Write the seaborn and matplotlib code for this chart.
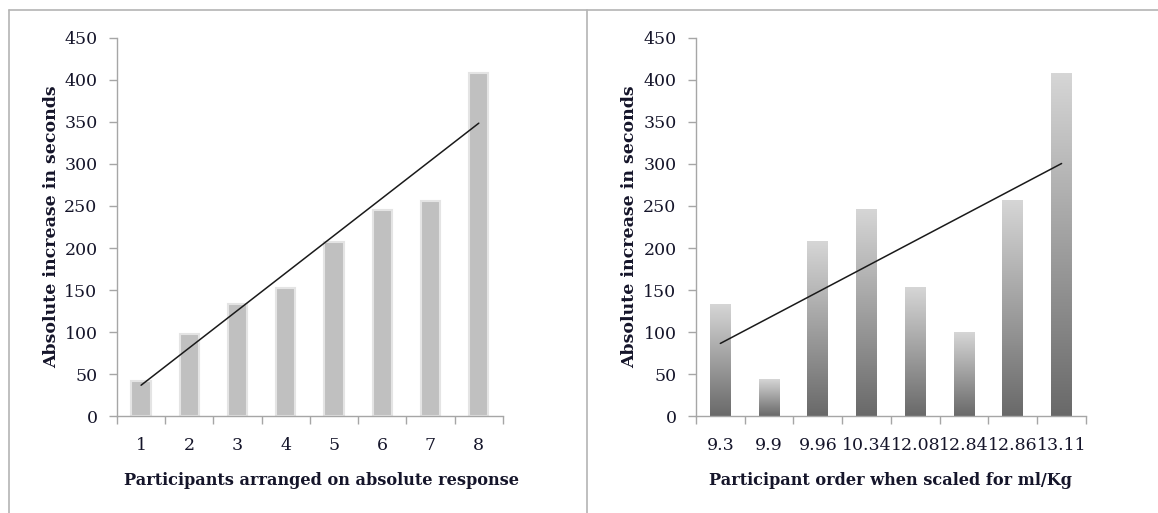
import numpy as np
import pandas as pd
import seaborn as sns
import matplotlib.pyplot as plt
from matplotlib.colors import LinearSegmentedColormap
from matplotlib.lines import Line2D

# values
participants = ['1', '2', '3', '4', '5', '6', '7', '8']
abs_increase = [42, 98, 133, 152, 207, 245, 256, 408]

mlkg_order = ['9.3', '9.9', '9.96', '10.34', '12.08', '12.84', '12.86', '13.11']
mlkg_increase = [133, 44, 208, 246, 153, 99, 257, 408]

yticks = list(range(0, 451, 50))

sns.set_style('white')
plt.rcParams['font.family'] = ['DejaVu Serif']
TXT = '#15152a'
AXC = '#a6a6a6'

fig = plt.figure(figsize=(11.58, 5.13), dpi=100)
ax1 = fig.add_axes([0.101, 0.189, 0.3333, 0.737])
ax2 = fig.add_axes([0.601, 0.189, 0.3368, 0.737])

df1 = pd.DataFrame({'cat': participants, 'val': abs_increase})
df2 = pd.DataFrame({'cat': mlkg_order, 'val': mlkg_increase})

sns.barplot(data=df1, x='cat', y='val', ax=ax1, color='#c0c0c0', width=0.4,
            edgecolor='#e4e4e4', linewidth=1.5, saturation=1)
sns.barplot(data=df2, x='cat', y='val', ax=ax2, color='#999999', width=0.43,
            linewidth=0, saturation=1)

# vertical gradient fill for the right-hand bars
grad_cmap = LinearSegmentedColormap.from_list('g', ['#696969', '#d6d6d6'])
grad = np.linspace(0, 1, 256).reshape(-1, 1)
for p in ax2.patches:
    x0, y0 = p.get_x(), p.get_y()
    w, h = p.get_width(), p.get_height()
    ax2.imshow(grad, cmap=grad_cmap, origin='lower', aspect='auto',
               extent=[x0, x0 + w, y0, y0 + h], zorder=2)
    p.set_facecolor('none')

# linear trend lines
for ax, vals in [(ax1, abs_increase), (ax2, mlkg_increase)]:
    sns.regplot(x=np.arange(len(vals)), y=np.array(vals), ax=ax, scatter=False,
                ci=None, truncate=True, line_kws={'color': '#1a1a1a', 'lw': 1.1, 'zorder': 5})

for ax, xlab in [(ax1, 'Participants arranged on absolute response'),
                 (ax2, 'Participant order when scaled for ml/Kg')]:
    ax.set_xlim(-0.5, 7.5)
    ax.set_ylim(0, 450)
    ax.set_yticks(yticks)
    ax.set_xticks(np.arange(8))
    ax.set_xticks(np.arange(-0.5, 8.0, 1.0), minor=True)
    ax.tick_params(axis='x', which='major', length=0, pad=15, labelsize=12.5, labelcolor=TXT)
    ax.tick_params(axis='x', which='minor', length=6, width=1, color=AXC, direction='out', bottom=True)
    ax.tick_params(axis='y', length=6, width=1, color=AXC, direction='out', left=True,
                   pad=8, labelsize=12.5, labelcolor=TXT)
    for s in ['top', 'right']:
        ax.spines[s].set_visible(False)
    for s in ['left', 'bottom']:
        ax.spines[s].set_color(AXC)
        ax.spines[s].set_linewidth(1)
    ax.set_ylabel('Absolute increase in seconds', fontsize=12.5, fontweight='bold', color=TXT)
    ax.set_xlabel(xlab, fontsize=11.6, fontweight='bold', color=TXT)
    ax.yaxis.set_label_coords(-0.148, 0.5)
    ax.xaxis.set_label_coords(0.5, -0.148)

ax1.xaxis.set_label_coords(0.53, -0.148)

# panel frame lines
for xy in [([0.0078, 1.0], [0.9805, 0.9805]),
           ([0.0078, 0.0078], [0.0, 0.9805]),
           ([0.507, 0.507], [0.0, 0.9805])]:
    fig.add_artist(Line2D(xy[0], xy[1], color='#b4b4b4', lw=1.2, transform=fig.transFigure))

fig.savefig('out.png', dpi=100, facecolor='white')
